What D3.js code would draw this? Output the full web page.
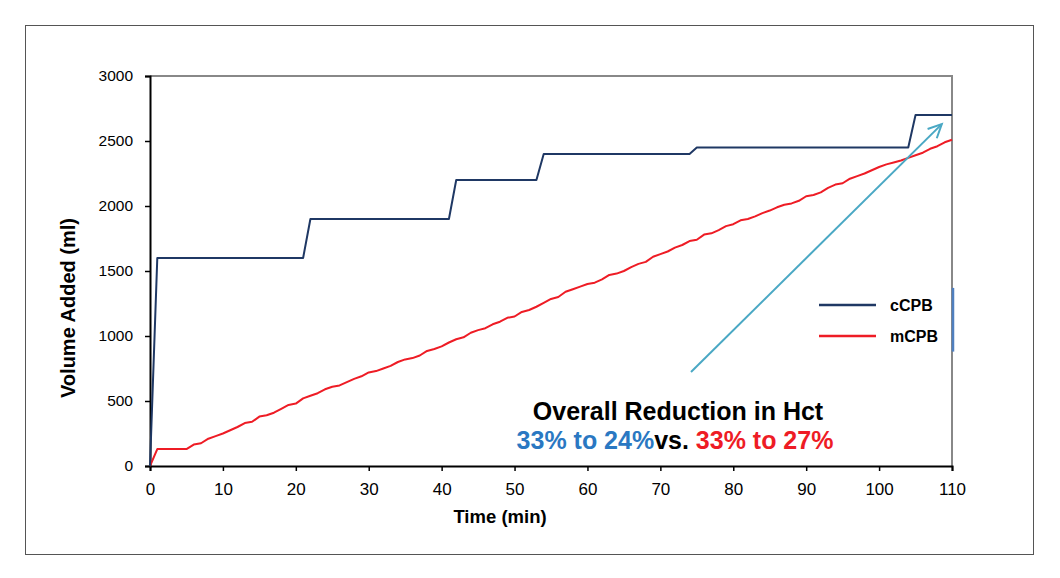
<!DOCTYPE html>
<html>
<head>
<meta charset="utf-8">
<script src="https://cdn.jsdelivr.net/npm/d3@7"></script>
<style>
  body { margin: 0; background: #fff; }
  svg { font-family: "Liberation Sans", Arial, sans-serif; }
</style>
</head>
<body>
<div id="chart"></div>
<script>
var width = 1060;
var height = 578;

// cCPB: stepwise volume added (time in min, volume in ml)
var cTime = [0, 1, 21, 22, 41, 42, 53, 54, 74, 75, 104, 105, 110];
var cVol = [0, 1600, 1600, 1900, 1900, 2200, 2200, 2400, 2400, 2450, 2450, 2700, 2700];

var mTime = d3.range(0, 111);
var mVol = [0, 130, 130, 130, 130, 130, 165, 175, 210, 230,
  250, 275, 300, 330, 340, 380, 390, 410, 440, 470,
  480, 520, 540, 560, 590, 610, 620, 645, 670, 690,
  720, 730, 750, 770, 800, 820, 830, 850, 885, 900,
  920, 950, 975, 990, 1025, 1045, 1060, 1090, 1110, 1140,
  1150, 1185, 1200, 1225, 1255, 1285, 1300, 1340, 1360, 1380,
  1400, 1410, 1435, 1470, 1480, 1500, 1530, 1555, 1570, 1610,
  1630, 1650, 1680, 1700, 1730, 1740, 1780, 1790, 1815, 1845,
  1860, 1890, 1900, 1920, 1945, 1965, 1990, 2010, 2020, 2040,
  2075, 2085, 2105, 2140, 2165, 2175, 2210, 2230, 2250, 2275,
  2300, 2320, 2335, 2350, 2370, 2390, 2410, 2440, 2460, 2490,
  2510];

var xTicks = [0, 10, 20, 30, 40, 50, 60, 70, 80, 90, 100, 110];
var yTicks = [0, 500, 1000, 1500, 2000, 2500, 3000];

var seriesNames = ["cCPB", "mCPB"];
var seriesColors = ["#1f3864", "#ee1c25"];

// arrow annotation, in data units
var arrowFrom = [74.2, 723];
var arrowTo = [108.6, 2630];

var margin = {left: 150, right: 108, top: 76, bottom: 112};

var x = d3.scaleLinear().domain([0, 110]).range([margin.left, width - margin.right]);
var y = d3.scaleLinear().domain([0, 3000]).range([height - margin.bottom, margin.top]);

var svg = d3.select("#chart").append("svg")
  .attr("width", width)
  .attr("height", height);

// outer frame
svg.append("rect")
  .attr("x", 25.5).attr("y", 25.5)
  .attr("width", 1008).attr("height", 529)
  .attr("fill", "#fff")
  .attr("stroke", "#555")
  .attr("stroke-width", 1);

// plot border top/right (gray)
svg.append("path")
  .attr("d", "M" + x(0) + "," + y(3000) + "H" + x(110) + "V" + y(0))
  .attr("fill", "none")
  .attr("stroke", "#888")
  .attr("stroke-width", 2);

var xAxis = svg.append("g")
  .attr("transform", "translate(0," + y(0) + ")")
  .call(d3.axisBottom(x).tickValues(xTicks).tickFormat(d3.format("d")).tickSize(5).tickPadding(12));
var yAxis = svg.append("g")
  .attr("transform", "translate(" + x(0) + ",0)")
  .call(d3.axisLeft(y).tickValues(yTicks).tickFormat(d3.format("d")).tickSize(5).tickPadding(12));

[xAxis, yAxis].forEach(function (g) {
  g.select(".domain").attr("stroke", "#000").attr("stroke-width", 2);
  g.selectAll(".tick line").attr("stroke", "#000").attr("stroke-width", 1.5);
  g.selectAll(".tick text")
    .attr("fill", "#000")
    .style("font-family", "'Liberation Sans', Arial, sans-serif");
});
xAxis.selectAll(".tick text").style("font-size", "17px");
yAxis.selectAll(".tick text").style("font-size", "15.5px");

// small blue mark on right border
svg.append("line")
  .attr("x1", x(110) + 1).attr("x2", x(110) + 1)
  .attr("y1", y(1370)).attr("y2", y(880))
  .attr("stroke", "#4f7fbf")
  .attr("stroke-width", 2.5);

var line = d3.line()
  .x(function (d) { return x(d[0]); })
  .y(function (d) { return y(d[1]); });

var cData = cTime.map(function (t, i) { return [t, cVol[i]]; });
var mData = mTime.map(function (t, i) { return [t, mVol[i]]; });

svg.append("path")
  .attr("d", line(mData))
  .attr("fill", "none")
  .attr("stroke", seriesColors[1])
  .attr("stroke-width", 2)
  .attr("stroke-linejoin", "round");

svg.append("path")
  .attr("d", line(cData))
  .attr("fill", "none")
  .attr("stroke", seriesColors[0])
  .attr("stroke-width", 2)
  .attr("stroke-linejoin", "round");

// arrow
var ax1 = x(arrowFrom[0]), ay1 = y(arrowFrom[1]);
var ax2 = x(arrowTo[0]), ay2 = y(arrowTo[1]);
var ang = Math.atan2(ay2 - ay1, ax2 - ax1);
var head = 15;
svg.append("line")
  .attr("x1", ax1).attr("y1", ay1)
  .attr("x2", ax2).attr("y2", ay2)
  .attr("stroke", "#4aa8c4")
  .attr("stroke-width", 2);
svg.append("path")
  .attr("d", "M" + (ax2 - head * Math.cos(ang - 0.45)) + "," + (ay2 - head * Math.sin(ang - 0.45)) +
    "L" + ax2 + "," + ay2 +
    "L" + (ax2 - head * Math.cos(ang + 0.45)) + "," + (ay2 - head * Math.sin(ang + 0.45)))
  .attr("fill", "none")
  .attr("stroke", "#4aa8c4")
  .attr("stroke-width", 2);

// legend
var legend = svg.append("g").attr("transform", "translate(819,305)");
seriesNames.forEach(function (name, i) {
  var g = legend.append("g").attr("transform", "translate(0," + (i * 31) + ")");
  g.append("line")
    .attr("x1", 0).attr("x2", 57)
    .attr("stroke", seriesColors[i])
    .attr("stroke-width", 2.5);
  g.append("text")
    .attr("x", 71).attr("y", 6)
    .style("font-size", "16px")
    .style("font-weight", "bold")
    .text(name);
});

// axis titles
svg.append("text")
  .attr("x", 500).attr("y", 523)
  .attr("text-anchor", "middle")
  .style("font-size", "18.5px")
  .style("font-weight", "bold")
  .text("Time (min)");

svg.append("text")
  .attr("transform", "translate(75,308) rotate(-90)")
  .attr("text-anchor", "middle")
  .style("font-size", "20px")
  .style("font-weight", "bold")
  .text("Volume Added (ml)");

// annotation
svg.append("text")
  .attr("x", 678).attr("y", 420)
  .attr("text-anchor", "middle")
  .style("font-size", "25px")
  .style("font-weight", "bold")
  .attr("fill", "#000")
  .text("Overall Reduction in Hct");

var note = svg.append("text")
  .attr("x", 675).attr("y", 449)
  .attr("text-anchor", "middle")
  .style("font-size", "25px")
  .style("font-weight", "bold");
note.append("tspan").attr("fill", "#2a78c2").text("33% to 24%");
note.append("tspan").attr("fill", "#000").text("vs. ");
note.append("tspan").attr("fill", "#ee1c25").text("33% to 27%");
</script>
</body>
</html>
